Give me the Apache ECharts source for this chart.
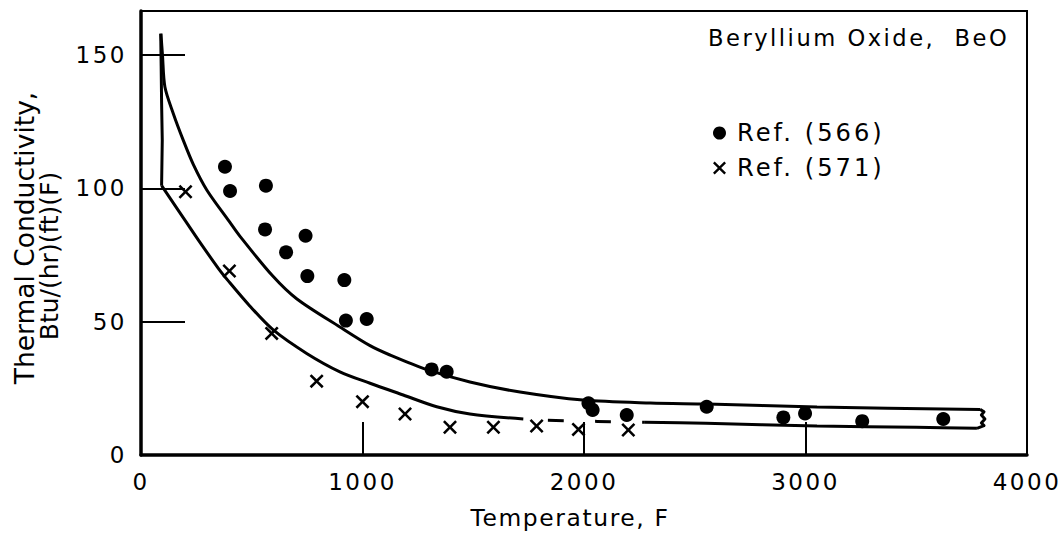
<!DOCTYPE html>
<html><head><meta charset="utf-8">
<script src="https://cdn.jsdelivr.net/npm/echarts@6/dist/echarts.min.js"></script>
<style>
html,body{margin:0;padding:0;background:#fff;}
#c{width:1062px;height:535px;}
#c text[style*="23px"]{letter-spacing:2.5px;}
#c text[style*="23.4px"]{letter-spacing:1.6px;}
#c text[style*="22.6px"]{letter-spacing:2.5px;}
#c text[style*="24.2px"]{letter-spacing:3px;}
</style></head><body><div id="c"></div>
<script>
// Ref. (566) filled circles: [temperature F, conductivity]
const ref566 = [[379,108.1],[402,99],[564,101],[560,84.6],[655,76],[743,82.2],[751,67.1],[918,65.6],[925,50.4],[1019,51],[1312,32.1],[1380,31.2],[2020,19.4],[2039,16.9],[2193,15],[2554,18.1],[2900,14.1],[2998,15.6],[3256,12.7],[3622,13.5]];
// Ref. (571) crosses
const ref571 = [[201,98.7],[399,69],[590,45.6],[793,27.7],[1000,20],[1192,15.4],[1395,10.4],[1591,10.4],[1786,10.9],[1975,9.6],[2200,9.4]];
// band: upper boundary curve
const upperCurve = [[90,158],[97,150],[108,138],[146,128],[191,118],[236,109],[297,99.4],[394,88.1],[447,82],[596,67],[704,58.5],[898,48],[1034,41],[1124,37.5],[1291,32],[1485,27.4],[1711,23.6],[1995,20.6],[2300,19.5],[2555,19.1],[3052,18],[3788,17.1]];
// band: lower boundary curve (solid part)
const lowerCurve = [[93,101],[199,88],[260,80.5],[349,70],[394,65.3],[490,56],[597,46.9],[748,38.1],[898,31.2],[1034,26.9],[1184,22.5],[1335,18.1],[1485,15.4],[1726,13.5]];
// lower boundary, broken (dashed) part
const lowerDashed = [[1837,13.0],[2060,12.6],[2275,12.3]];
// lower boundary, solid tail
const lowerTail = [[2275,12.3],[2550,11.9],[3052,10.9],[3500,10.4],[3774,10.0]];
// band closures
const leftClosure = [[93,101],[96,118],[93,132],[91,146],[89,158]];
const rightClosure = [[3788,17.1],[3806,16.2],[3794,15],[3810,13.5],[3794,12],[3806,11],[3774,10.0]];
// axis ranges
const xMin = 0, xMax = 4000, xStep = 1000;
const yMin = 0, yMax = 166.5, yStep = 50;

const FONT = 'DejaVu Sans';
const crossPath = 'path://M0,1.8L1.8,0L7,5.2L12.2,0L14,1.8L8.8,7L14,12.2L12.2,14L7,8.8L1.8,14L0,12.2L5.2,7Z';

const chart = echarts.init(document.getElementById('c'), null, {renderer:'svg'});
const lineBase = {type:'line', showSymbol:false, symbol:'none', silent:true, color:'#000', lineStyle:{color:'#000', width:3}, z:2};
chart.setOption({
  animation:false,
  backgroundColor:'#fff',
  grid:{left:141, right:35, top:11, bottom:80, show:true, borderColor:'#000', borderWidth:2, backgroundColor:'transparent'},
  xAxis:{type:'value', min:xMin, max:xMax, interval:xStep,
    axisLine:{show:true, onZero:false, lineStyle:{color:'#000', width:3.5}},
    axisTick:{show:true, inside:true, length:33, lineStyle:{color:'#000', width:2}},
    axisLabel:{color:'#000', fontSize:23, fontFamily:FONT, margin:15, formatter:function(v){return String(v);}},
    splitLine:{show:false}},
  yAxis:{type:'value', min:yMin, max:yMax, interval:yStep,
    axisLine:{show:true, onZero:false, lineStyle:{color:'#000', width:3.5}},
    axisTick:{show:true, inside:true, length:44, lineStyle:{color:'#000', width:2}},
    axisLabel:{color:'#000', fontSize:23, fontFamily:FONT, margin:14, showMaxLabel:false, formatter:function(v){return String(v);}},
    splitLine:{show:false}},
  legend:{show:true, orient:'vertical', left:708, top:116, itemWidth:13, itemHeight:13, itemGap:11,
    itemStyle:{opacity:1},
    textStyle:{color:'#000', fontSize:24.2, fontFamily:FONT, lineHeight:24, padding:[0,0,0,6]},
    data:[{name:'Ref. (566)', icon:'circle'},{name:'Ref. (571)', icon:crossPath}]},
  graphic:[
    {type:'text', x:708, y:38, style:{text:'Beryllium Oxide,  BeO', fill:'#000', fontSize:22.6, fontFamily:FONT, textAlign:'left', textVerticalAlign:'middle'}},
    {type:'text', x:570, y:518, style:{text:'Temperature, F', fill:'#000', fontSize:23.4, fontFamily:FONT, textAlign:'center', textVerticalAlign:'middle'}},
    {type:'text', x:24, y:238, rotation:Math.PI/2, style:{text:'Thermal Conductivity,', fill:'#000', fontSize:26.5, fontFamily:FONT, textAlign:'center', textVerticalAlign:'middle'}},
    {type:'text', x:49, y:256, rotation:Math.PI/2, style:{text:'Btu/(hr)(ft)(F)', fill:'#000', fontSize:25, fontFamily:FONT, textAlign:'center', textVerticalAlign:'middle'}}
  ],
  series:[
    Object.assign({}, lineBase, {name:'upper', data:upperCurve, smooth:0.3}),
    Object.assign({}, lineBase, {name:'lower', data:lowerCurve, smooth:0.3}),
    Object.assign({}, lineBase, {name:'lowerDashed', data:lowerDashed, smooth:0.3, lineStyle:{color:'#000', width:3, type:[16,31]}}),
    Object.assign({}, lineBase, {name:'lowerTail', data:lowerTail, smooth:0.3}),
    Object.assign({}, lineBase, {name:'leftClosure', data:leftClosure, smooth:false, lineStyle:{color:'#000', width:3, join:'round'}}),
    Object.assign({}, lineBase, {name:'rightClosure', data:rightClosure, smooth:false, lineStyle:{color:'#000', width:3, join:'round'}}),
    {type:'scatter', name:'Ref. (566)', data:ref566, symbol:'circle', symbolSize:14, itemStyle:{color:'#000', opacity:1}, z:3},
    {type:'scatter', name:'Ref. (571)', data:ref571, symbol:crossPath, symbolSize:14, itemStyle:{color:'#000', opacity:1}, z:3}
  ]
});
</script></body></html>
